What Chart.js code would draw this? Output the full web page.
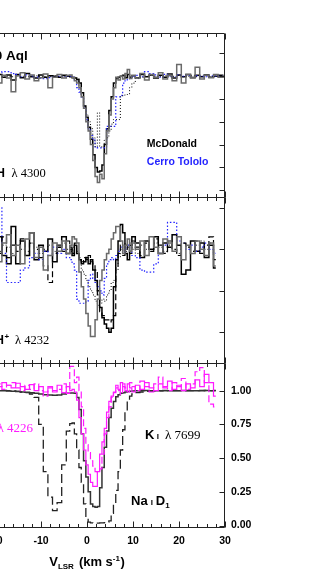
<!DOCTYPE html>
<html>
<head>
<meta charset="utf-8">
<script src="https://cdn.jsdelivr.net/npm/chart.js@4.4.1/dist/chart.umd.min.js"></script>
<style>
  html, body { margin: 0; padding: 0; background: #fff; overflow: hidden; }
  body { width: 311px; height: 587px; position: relative; }
  canvas { position: absolute; left: -61px; }
</style>
</head>
<body>
<canvas id="chPanel" width="356" height="174" style="top:28px"></canvas>
<canvas id="chpPanel" width="356" height="176" style="top:192px"></canvas>
<canvas id="ismPanel" width="356" height="229" style="top:358px"></canvas>
<script>
// velocity grids, km/s
const velCH = [-21, -20, -19, -18, -17, -16, -15, -14, -13, -12, -11, -10, -9, -8, -7, -6, -5, -4,
  -3.5, -3, -2.5, -2, -1.5, -1, -0.5, 0, 0.5, 1, 1.5, 2, 2.5, 3, 3.5, 4, 4.5, 5, 5.5, 6, 6.5, 7, 7.5, 8, 8.5, 9, 9.5, 10,
  11, 12, 13, 14, 15, 16, 17, 18, 19, 20, 21, 22, 23, 24, 25, 26, 27, 28, 29, 30];
const velISM = [-21, -20, -19, -18, -17, -16, -15, -14, -13, -12, -11, -10, -9, -8, -7, -6, -5, -4,
  -3.5, -3, -2.5, -2, -1.5, -1, -0.5, 0, 0.5, 1, 1.5, 2, 2.5, 3, 3.5, 4, 4.5, 5, 5.5, 6, 6.5, 7, 7.5, 8, 8.5, 9, 9.5, 10,
  11, 12, 13, 14, 15, 16, 17, 18, 19, 20, 21, 22, 23, 24, 25, 26, 27, 28];

// CH 4300
const chMcd1 = [1.000, 0.995, 1.004, 0.998, 1.003, 0.992, 1.004, 0.997, 1.006, 0.999, 0.996, 1.003, 0.998, 1.001, 1.000, 0.998, 1.002, 1.000,
  0.999, 0.997, 0.996, 0.993, 0.985, 0.964, 0.935, 0.910, 0.888, 0.862, 0.828, 0.800, 0.790, 0.792, 0.805, 0.850, 0.885, 0.925, 0.955, 0.985, 0.995, 0.998, 1.000, 1.002, 0.997, 1.004, 0.998, 1.001,
  0.997, 1.004, 0.999, 1.003, 0.996, 1.002, 0.998, 1.005, 0.996, 1.003, 0.999, 1.004, 0.997, 1.002, 0.999, 1.003, 0.998, 1.000, 1.002, 0.999];
const chMcd2 = [0.998, 1.006, 0.985, 1.002, 0.996, 0.966, 1.001, 1.008, 0.994, 1.003, 0.990, 0.997, 1.005, 0.975, 0.998, 1.004, 0.996, 1.002,
  1.003, 0.998, 0.990, 0.985, 0.975, 0.955, 0.930, 0.900, 0.880, 0.850, 0.815, 0.780, 0.767, 0.785, 0.775, 0.830, 0.880, 0.915, 0.950, 0.975, 0.998, 0.992, 1.000, 0.994, 1.006, 1.015, 0.995, 1.002,
  0.996, 1.006, 0.992, 1.004, 0.998, 1.008, 0.994, 1.002, 0.990, 1.026, 0.985, 1.004, 0.998, 1.020, 0.994, 1.002, 0.997, 1.004, 0.998, 1.000];
const chMcd3 = [1.000, 1.000, 0.999, 1.001, 1.000, 0.999, 1.001, 1.000, 0.999, 1.000, 1.001, 1.000, 0.999, 1.000, 1.001, 1.000, 0.999, 1.000,
  1.000, 0.999, 0.998, 0.995, 0.975, 0.955, 0.935, 0.915, 0.900, 0.885, 0.865, 0.845, 0.920, 0.845, 0.845, 0.860, 0.865, 0.880, 0.895, 0.905, 0.905, 0.905, 0.955, 0.958, 0.960, 0.960, 0.975, 0.985,
  0.995, 0.998, 1.000, 1.002, 0.999, 1.000, 1.001, 0.999, 1.000, 1.002, 0.999, 1.000, 1.001, 0.999, 1.000, 1.001, 0.999, 1.000, 1.000, 1.000];
const chCTIO = [1.002, 1.005, 1.008, 1.010, 1.010, 1.006, 1.004, 0.999, 1.003, 1.001, 0.998, 0.996, 0.995, 0.997, 0.998, 1.000, 0.999, 1.001,
  1.000, 0.998, 0.990, 0.975, 0.965, 0.955, 0.930, 0.905, 0.885, 0.870, 0.860, 0.845, 0.843, 0.843, 0.843, 0.845, 0.890, 0.890, 0.890, 0.890, 0.955, 0.955, 0.958, 0.985, 0.990, 0.995, 0.998, 1.000,
  1.002, 0.999, 1.010, 1.006, 1.003, 0.998, 1.004, 1.001, 0.999, 1.003, 1.000, 1.002, 0.998, 1.001, 1.000, 0.999, 1.001, 1.000, 1.000, 1.000];

// CH+ 4232
const chpMcd1 = [1.002, 0.998, 1.006, 0.997, 0.993, 1.011, 0.993, 1.004, 0.997, 1.008, 0.995, 1.002, 0.999, 1.005, 0.994, 1.001, 1.006, 0.998,
  1.000, 0.997, 1.002, 0.998, 0.995, 0.993, 0.994, 0.996, 0.993, 0.995, 0.990, 0.985, 0.980, 0.972, 0.967, 0.964, 0.962, 0.960, 0.962, 0.982, 0.995, 1.004, 1.012, 1.008, 0.998, 0.995, 1.002, 1.006,
  1.003, 0.996, 1.004, 1.000, 1.006, 0.998, 1.003, 1.001, 1.007, 1.002, 0.988, 0.990, 1.004, 0.999, 1.003, 0.996, 1.002, 0.991];
const chpMcd2 = [0.998, 1.004, 0.994, 1.003, 1.007, 0.997, 1.002, 0.993, 1.005, 1.008, 0.996, 1.001, 0.990, 0.997, 1.003, 0.999, 1.004, 0.998,
  1.002, 1.006, 1.005, 1.003, 0.989, 0.982, 0.976, 0.969, 0.963, 0.958, 0.958, 0.966, 0.976, 0.985, 0.990, 0.995, 0.998, 1.000, 1.005, 1.008, 1.011, 1.011, 1.004, 0.998, 1.002, 1.005, 0.999, 1.003,
  1.000, 1.004, 0.997, 1.006, 1.001, 0.998, 1.005, 1.003, 0.999, 1.006, 0.995, 1.002, 0.998, 1.004, 1.000, 0.997, 1.003, 0.992];
const chpMcd3 = [1.000, 1.004, 0.998, 1.006, 0.996, 1.002, 0.999, 1.005, 0.997, 1.003, 1.000, 0.996, 0.992, 0.984, 0.998, 1.002, 0.999, 1.004,
  1.001, 0.998, 1.003, 0.999, 0.996, 0.994, 0.996, 0.995, 0.997, 0.994, 0.993, 0.990, 0.978, 0.970, 0.968, 0.966, 0.966, 0.965, 0.966, 0.968, 0.992, 0.998, 1.002, 0.997, 1.003, 1.000, 0.998, 1.004,
  1.001, 0.997, 1.003, 0.999, 1.005, 1.002, 0.998, 1.004, 1.000, 0.997, 1.003, 1.001, 0.999, 1.004, 0.998, 1.002, 1.006, 0.995];
const chpMcd4 = [1.000, 1.003, 0.999, 1.002, 1.001, 0.998, 1.002, 1.000, 0.999, 1.003, 1.001, 0.998, 1.000, 1.002, 0.999, 1.001, 1.003, 1.000,
  0.999, 1.001, 1.002, 0.998, 0.995, 0.990, 0.988, 0.985, 0.982, 0.980, 0.978, 0.975, 0.973, 0.974, 0.976, 0.975, 0.978, 0.980, 0.984, 0.985, 0.990, 0.996, 1.000, 1.002, 0.999, 1.001, 1.003, 1.000,
  0.998, 1.002, 1.000, 0.999, 1.003, 1.001, 0.999, 1.002, 1.000, 0.998, 1.003, 1.001, 0.999, 1.002, 1.004, 1.000, 1.003, 0.997];
const chpCTIO = [1.000, 1.020, 1.020, 0.998, 0.984, 0.984, 0.984, 0.990, 0.991, 0.996, 0.998, 0.995, 0.999, 0.997, 1.001, 0.998, 1.000, 0.996,
  0.995, 0.993, 0.990, 0.976, 0.974, 0.974, 0.974, 0.975, 0.985, 0.988, 0.986, 0.984, 0.982, 0.980, 0.978, 0.986, 0.993, 0.995, 0.996, 0.995, 0.997, 0.999, 1.001, 0.998, 1.000, 1.002, 0.999, 0.997,
  0.996, 0.990, 0.989, 0.989, 0.993, 0.998, 1.002, 1.013, 1.013, 1.004, 1.003, 1.000, 1.002, 0.999, 1.001, 1.003, 1.000, 0.998];

// K I 7699, Na I D1, Ca I 4226
const kI = [0.998, 0.999, 1.000, 0.999, 0.998, 0.996, 0.993, 0.990, 0.988, 0.985, 0.980, 0.975, 0.970, 0.968, 0.966, 0.968, 0.975, 0.980,
  0.982, 0.983, 0.980, 0.950, 0.860, 0.680, 0.480, 0.360, 0.250, 0.160, 0.140, 0.135, 0.140, 0.280, 0.430, 0.580, 0.700, 0.800, 0.870, 0.920, 0.955, 0.970, 0.980, 0.985, 0.990, 0.993, 0.995, 0.997,
  0.999, 1.000, 1.001, 1.000, 0.999, 1.000, 1.001, 1.000, 1.000, 0.999, 1.001, 1.000, 1.000, 0.999, 1.000, 1.001, 1.000, 0.999];
const naI = [0.990, 0.995, 1.000, 1.002, 1.000, 0.998, 0.995, 0.990, 0.985, 0.975, 0.950, 0.750, 0.400, 0.210, 0.110, 0.170, 0.450, 0.700,
  0.755, 0.760, 0.680, 0.560, 0.430, 0.320, 0.160, 0.060, 0.025, 0.020, 0.018, 0.018, 0.018, 0.020, 0.020, 0.022, 0.025, 0.035, 0.090, 0.160, 0.260, 0.400, 0.560, 0.710, 0.840, 0.930, 0.960, 0.975,
  0.985, 0.990, 0.994, 0.996, 0.998, 0.999, 1.000, 1.000, 1.001, 1.000, 1.000, 1.001, 1.000, 1.000, 1.002, 1.001, 1.000, 1.002];
const caI1 = [1.020, 1.045, 1.030, 1.060, 1.040, 1.020, 1.055, 1.030, 1.010, 1.045, 1.000, 1.030, 0.990, 1.020, 1.000, 1.040, 0.985, 1.030,
  1.000, 1.010, 0.990, 0.930, 0.800, 0.680, 0.560, 0.450, 0.380, 0.320, 0.290, 0.290, 0.400, 0.530, 0.620, 0.720, 0.840, 0.920, 0.960, 0.990, 1.020, 1.010, 1.060, 1.030, 1.000, 1.050, 1.020, 0.990,
  1.040, 1.010, 1.060, 1.020, 1.000, 1.050, 1.030, 1.070, 1.010, 1.040, 1.000, 1.050, 1.020, 1.080, 1.030, 1.120, 1.060, 0.960];
const caI2 = [1.000, 1.030, 1.050, 1.010, 1.040, 1.060, 1.020, 1.000, 1.040, 1.010, 1.050, 1.000, 0.960, 1.030, 0.990, 1.010, 1.050, 0.980,
  1.180, 1.180, 1.060, 1.100, 1.000, 0.880, 0.720, 0.600, 0.540, 0.480, 0.440, 0.400, 0.395, 0.420, 0.530, 0.680, 0.800, 0.880, 0.950, 0.985, 1.040, 1.000, 0.970, 1.050, 1.020, 0.990, 1.060, 1.030,
  1.000, 1.070, 1.030, 0.990, 1.050, 1.100, 1.020, 1.000, 1.060, 1.030, 1.090, 1.010, 1.050, 1.140, 1.170, 1.060, 0.900, 0.880];

const xTicks = [-30, -20, -10, 0, 10, 20, 30];
const yTicksCH = [0.75, 0.80, 0.85, 0.90, 0.95, 1.00, 1.05];
const yTicksCHp = [0.96, 0.98, 1.00, 1.02];
const yTicksISM = [0.00, 0.25, 0.50, 0.75, 1.00];

const SANS = '"Liberation Sans", Arial, sans-serif';
const SERIF = '"Liberation Serif", "Times New Roman", serif';
const GREY = '#6a6a6a';
const BLUE = '#2424ff';
const MAGENTA = '#ff1aff';

function spec(vel, flux, color, width, dash) {
  return {
    data: vel.map((v, i) => ({ x: v, y: flux[i] })),
    borderColor: color,
    borderWidth: width,
    borderDash: dash || [],
    stepped: 'middle',
    pointRadius: 0,
    fill: false,
    clip: 0
  };
}

function drawNote(ctx, chart, n) {
  const a = chart.chartArea;
  let x = chart.scales.x.getPixelForValue(n.v);
  const y = n.below !== undefined ? a.bottom + n.below : chart.scales.y.getPixelForValue(n.f);
  const widths = n.parts.map(p => { ctx.font = p.font; return ctx.measureText(p.t).width + (p.dx || 0); });
  const total = widths.reduce((s, w) => s + w, 0);
  if (n.align === 'right') x -= total;
  if (n.align === 'center') x -= total / 2;
  ctx.textAlign = 'left';
  ctx.textBaseline = 'alphabetic';
  n.parts.forEach((p, i) => {
    ctx.font = p.font;
    ctx.fillStyle = p.color || n.color || '#000';
    ctx.fillText(p.t, x + (p.dx || 0), y + (p.dy || 0));
    x += widths[i];
  });
}

// panel frame, inward ticks and the text notes
const framePlugin = {
  id: 'frame',
  afterDatasetsDraw(chart, args, opts) {
    const { ctx, chartArea: a, scales } = chart;
    const top = Math.round(a.top) + 0.5, bottom = Math.round(a.bottom) + 0.5;
    const left = a.left, right = Math.round(a.right) - 0.5;
    ctx.save();
    ctx.strokeStyle = '#222';
    ctx.lineWidth = 1;
    ctx.beginPath();
    ctx.moveTo(left, top); ctx.lineTo(right, top); ctx.lineTo(right, bottom); ctx.lineTo(left, bottom);
    for (let v = -30; v <= 30; v += 2) {
      const x = Math.round(scales.x.getPixelForValue(v)) + 0.5;
      const len = v % 10 === 0 ? 6 : 3.5;
      ctx.moveTo(x, top); ctx.lineTo(x, top + len);
      ctx.moveTo(x, bottom); ctx.lineTo(x, bottom - len);
    }
    scales.y.ticks.forEach(t => {
      const y = Math.round(scales.y.getPixelForValue(t.value)) + 0.5;
      ctx.moveTo(right, y); ctx.lineTo(right - 5, y);
    });
    ctx.stroke();
    (opts.notes || []).forEach(n => drawNote(ctx, chart, n));
    ctx.restore();
  }
};

function panel(id, datasets, yMin, yMax, yTicks, showAxes, pad, notes) {
  const tickFont = { family: SANS, size: 10.5, weight: 'bold' };
  new Chart(document.getElementById(id), {
    type: 'line',
    data: { datasets: datasets },
    plugins: [framePlugin],
    options: {
      responsive: false,
      animation: false,
      events: [],
      layout: { padding: pad },
      plugins: { legend: { display: false }, tooltip: { enabled: false }, frame: { notes: notes } },
      scales: {
        x: {
          type: 'linear', min: -30, max: 30, display: showAxes,
          afterBuildTicks: s => { s.ticks = xTicks.map(v => ({ value: v })); },
          afterFit: s => {
            s.height = showAxes ? 60.5 : 0;
            s.paddingLeft = 0; s.paddingRight = 0;
          },
          grid: { display: false, drawTicks: false }, border: { display: false },
          ticks: { font: tickFont, color: '#000', padding: 8, maxRotation: 0, autoSkip: false }
        },
        y: {
          type: 'linear', position: 'right', min: yMin, max: yMax,
          afterBuildTicks: s => { s.ticks = yTicks.map(v => ({ value: v })); },
          afterFit: s => {
            s.width = 70;
            s.paddingTop = 0; s.paddingBottom = 0;
          },
          grid: { display: false, drawTicks: false }, border: { display: false },
          ticks: { display: showAxes, font: tickFont, color: '#000', padding: 6, callback: v => v.toFixed(2) }
        }
      }
    }
  });
}

const b12 = `bold 12px ${SANS}`, b13 = `bold 13px ${SANS}`, b8 = `bold 8px ${SANS}`;

panel('chPanel', [
  spec(velCH, chMcd2, GREY, 1.5),
  spec(velCH, chMcd3, '#000', 1, [1, 2]),
  spec(velCH, chCTIO, BLUE, 1.2, [1.5, 2]),
  spec(velCH, chMcd1, '#000', 1.5)
], 0.735, 1.095, yTicksCH, false, { left: 10, right: 0, top: 5, bottom: 5 }, [
  { v: -12.9, f: 1.0366, align: 'right', parts: [{ t: '20 Aql', font: `bold 13.5px ${SANS}` }] },
  { v: -8.98, f: 0.780, align: 'right', parts: [{ t: 'CH', font: b12 }, { t: 'λ 4300', font: `12.5px ${SERIF}`, dx: 6.5 }] },
  { v: 13.0, f: 0.845, parts: [{ t: 'McDonald', font: `bold 10.5px ${SANS}` }] },
  { v: 13.0, f: 0.806, color: BLUE, parts: [{ t: 'Cerro Tololo', font: `bold 10.5px ${SANS}` }] }
]);

panel('chpPanel', [
  spec(velISM, chpMcd2, GREY, 1.5),
  spec(velISM, chpMcd3, '#000', 1.2, [6, 3]),
  spec(velISM, chpMcd4, '#000', 1, [1, 2]),
  spec(velISM, chpCTIO, BLUE, 1.2, [1.5, 2]),
  spec(velISM, chpMcd1, '#000', 1.5)
], 0.9452, 1.0252, yTicksCHp, false, { left: 10, right: 0, top: 5, bottom: 5 }, [
  { v: -8.2, f: 0.9544, align: 'right', parts: [{ t: 'CH', font: b12 }, { t: '+', font: b8, dy: -5, dx: 0.5 }, { t: 'λ 4232', font: `12.5px ${SERIF}`, dx: 6 }] }
]);

panel('ismPanel', [
  spec(velISM, caI1, MAGENTA, 1.2),
  spec(velISM, caI2, MAGENTA, 1.2, [7, 3]),
  spec(velISM, kI, '#333', 1.5),
  spec(velISM, naI, '#222', 1.3, [9, 4])
], -0.0074, 1.205, yTicksISM, true, { left: 10, right: 0, top: 5, bottom: 0 }, [
  { v: -11.74, f: 0.696, align: 'right', color: MAGENTA, parts: [{ t: 'Ca', font: b13 }, { t: 'I', font: b8, dx: 2.5 }, { t: 'λ 4226', font: `13px ${SERIF}`, dx: 6 }] },
  { v: 12.6, f: 0.64, parts: [{ t: 'K', font: b13 }, { t: 'I', font: b8, dx: 2.5 }, { t: 'λ 7699', font: `13px ${SERIF}`, dx: 6 }] },
  { v: 9.57, f: 0.153, parts: [{ t: 'Na', font: b13 }, { t: 'I', font: b8, dx: 3 }, { t: 'D', font: b13, dx: 3 }, { t: '1', font: b8, dy: 3 }] },
  { v: 0, below: 39.2, align: 'center', parts: [{ t: 'V', font: b13 }, { t: 'LSR', font: b8, dy: 3 }, { t: '(km s', font: b13, dx: 5 }, { t: '-1', font: b8, dy: -5 }, { t: ')', font: b13, dx: 0.5 }] }
]);
</script>
</body>
</html>
